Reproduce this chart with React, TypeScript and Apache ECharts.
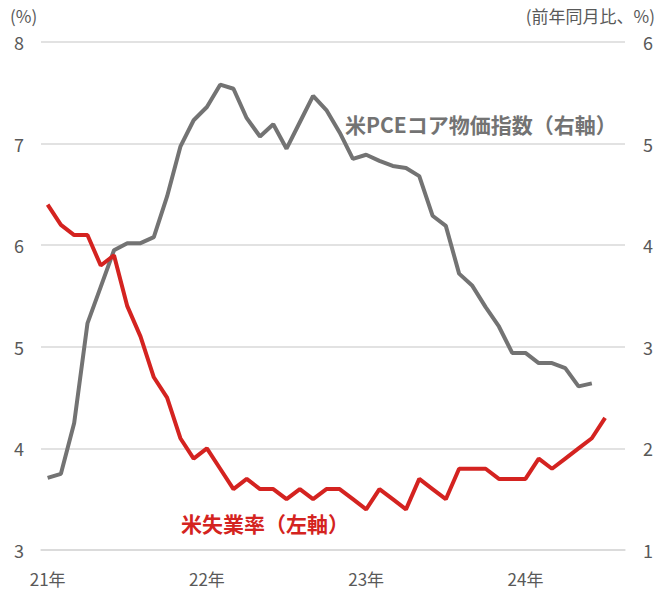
import React, { useEffect, useRef } from "react";
import * as echarts from "echarts";

const months: string[] = [];
for (let y = 2021; y <= 2024; y++) {
  for (let m = 1; m <= 12; m++) {
    if (y === 2024 && m > 8) break;
    months.push(`${y}-${String(m).padStart(2, "0")}`);
  }
}

const unemployment = [
  6.4, 6.2, 6.1, 6.1, 5.8, 5.9, 5.4, 5.1, 4.7, 4.5, 4.1, 3.9,
  4.0, 3.8, 3.6, 3.7, 3.6, 3.6, 3.5, 3.6, 3.5, 3.6, 3.6, 3.5,
  3.4, 3.6, 3.5, 3.4, 3.7, 3.6, 3.5, 3.8, 3.8, 3.8, 3.7, 3.7,
  3.7, 3.9, 3.8, 3.9, 4.0, 4.1, 4.3, null,
];

const pceCore = [
  1.71, 1.75, 2.25, 3.23, 3.59, 3.95, 4.02, 4.02, 4.08, 4.48, 4.97, 5.23,
  5.36, 5.58, 5.54, 5.25, 5.07, 5.19, 4.95, 5.21, 5.47, 5.33, 5.11, 4.85,
  4.89, 4.83, 4.78, 4.76, 4.68, 4.29, 4.19, 3.72, 3.60, 3.39, 3.20, 2.94,
  2.94, 2.84, 2.84, 2.79, 2.61, 2.64, null, null,
];

const RED = "#d42320";
const GREY = "#737373";
const TICK = "#595959";
const FONT = "'Noto Sans CJK JP', 'Noto Sans', sans-serif";

export default function App() {
  const ref = useRef<HTMLDivElement>(null);
  useEffect(() => {
    if (!ref.current) return;
    const chart = echarts.init(ref.current, undefined, { renderer: "svg" });
    chart.setOption({
      animation: false,
      textStyle: { fontFamily: FONT },
      grid: { left: 41, right: 39, top: 42, bottom: 41, containLabel: false },
      xAxis: {
        type: "category",
        data: months,
        boundaryGap: true,
        axisLine: { lineStyle: { color: "#d9d9d9", width: 1.5 } },
        axisTick: {
          interval: (i: number) => i % 12 === 0,
          length: 6,
          lineStyle: { color: "#d9d9d9", width: 1.5 },
        },
        axisLabel: {
          interval: (i: number) => i % 12 === 0,
          formatter: (v: string) => `${v.slice(2, 4)}年`,
          color: TICK,
          fontSize: 17,
          margin: 20,
          fontFamily: FONT,
        },
        splitLine: { show: false },
      },
      yAxis: [
        {
          type: "value",
          min: 3,
          max: 8,
          interval: 1,
          axisLine: { show: false },
          axisTick: { show: false },
          axisLabel: { color: TICK, fontSize: 18, margin: 17, fontFamily: FONT },
          splitLine: { lineStyle: { color: "#d9d9d9", width: 1.5 } },
        },
        {
          type: "value",
          min: 1,
          max: 6,
          interval: 1,
          axisLine: { show: false },
          axisTick: { show: false },
          axisLabel: { color: TICK, fontSize: 18, margin: 18, fontFamily: FONT },
          splitLine: { show: false },
        },
      ],
      series: [
        {
          name: "米失業率（左軸）",
          type: "line",
          yAxisIndex: 0,
          data: unemployment,
          showSymbol: false,
          lineStyle: { color: RED, width: 4 },
          itemStyle: { color: RED },
          z: 3,
        },
        {
          name: "米PCEコア物価指数（右軸）",
          type: "line",
          yAxisIndex: 1,
          data: pceCore,
          showSymbol: false,
          lineStyle: { color: GREY, width: 4 },
          itemStyle: { color: GREY },
          z: 2,
        },
      ],
      graphic: [
        {
          type: "text",
          left: 10,
          top: 7,
          style: { text: "(%)", fill: TICK, fontSize: 17, fontFamily: FONT },
        },
        {
          type: "text",
          right: 9,
          top: 7,
          style: { text: "(前年同月比、%)", fill: TICK, fontSize: 17, fontFamily: FONT },
        },
        {
          type: "text",
          left: 345,
          top: 113,
          style: {
            text: "米PCEコア物価指数（右軸）",
            fill: GREY,
            fontSize: 21,
            fontWeight: "bold",
            fontFamily: FONT,
          },
        },
        {
          type: "text",
          left: 181,
          top: 512,
          style: {
            text: "米失業率（左軸）",
            fill: RED,
            fontSize: 21,
            fontWeight: "bold",
            fontFamily: FONT,
          },
        },
      ],
    });
    return () => chart.dispose();
  }, []);
  return (
    <div
      ref={ref}
      style={{ position: "fixed", left: 0, top: 0, width: 664, height: 591, background: "#fff" }}
    />
  );
}
